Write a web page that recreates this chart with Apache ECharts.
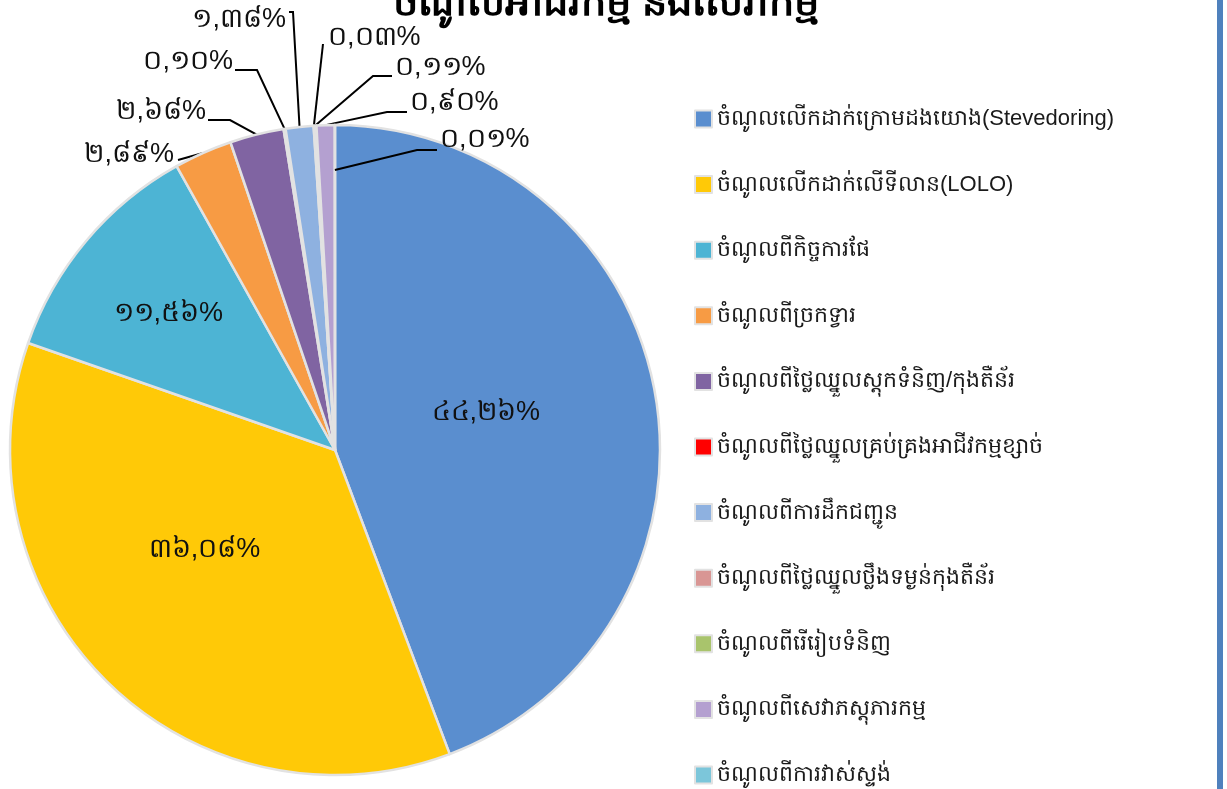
<!DOCTYPE html>
<html>
<head>
<meta charset="utf-8">
<title>ចំណូលអាជីវកម្ម និងសេវាកម្ម</title>
<script src="https://cdn.jsdelivr.net/npm/echarts@6/dist/echarts.min.js"></script>
<style>
  html, body { margin: 0; padding: 0; background: #fff; }
  #chart { width: 1227px; height: 789px; }
</style>
</head>
<body>
<div id="chart"></div>
<script>
// ប្រភេទចំណូល (categories)
const categories = [
  'ចំណូលលើកដាក់ក្រោមដងយោង(Stevedoring)',
  'ចំណូលលើកដាក់លើទីលាន(LOLO)',
  'ចំណូលពីកិច្ចការផែ',
  'ចំណូលពីច្រកទ្វារ',
  'ចំណូលពីថ្លៃឈ្នួលស្តុកទំនិញ/កុងតឺន័រ',
  'ចំណូលពីថ្លៃឈ្នួលគ្រប់គ្រងអាជីវកម្មខ្សាច់',
  'ចំណូលពីការដឹកជញ្ជូន',
  'ចំណូលពីថ្លៃឈ្នួលថ្លឹងទម្ងន់កុងតឺន័រ',
  'ចំណូលពីរើរៀបទំនិញ',
  'ចំណូលពីសេវាភស្តុភារកម្ម',
  'ចំណូលពីការវាស់ស្ទង់'
]
// ភាគរយ (%)
const values = [44.26, 36.08, 11.56, 2.89, 2.68, 0.10, 1.38, 0.03, 0.11, 0.90, 0.01]
const colors = [
  '#5A8ECF', '#FFC907', '#4DB4D4', '#F79B44', '#8064A2', '#FF0000',
  '#8EB1E0', '#D99694', '#A9C46C', '#B4A0D0', '#7CC6DA'
]
// slices that get their label inside
const insideLabels = [0, 1, 2]

const khmerDigits = ['០', '១', '២', '៣', '៤', '៥', '៦', '៧', '៨', '៩']
const toKhmer = (v) =>
  v.toFixed(2).replace('.', ',').replace(/[0-9]/g, (d) => khmerDigits[+d]) + '%'

const pieCenter = [335, 450]
const pieRadius = 325

// where the labels sit (like the Excel layout): inside ones get a nudge,
// outside ones get text position + elbow of the leader line
const insideNudge = {
  0: [-12, -8],
  1: [-15, -19],
  2: [-40, -30]
}
const outsideLayout = {
  3: { x: 174, y: 155, align: 'right', elbow: [178, 160] },
  4: { x: 206, y: 112, align: 'right', elbow: [230, 120], end: [208, 120] },
  5: { x: 233, y: 62, align: 'right', elbow: [257, 70], end: [235, 70] },
  6: { x: 286, y: 20, align: 'right', elbow: [293, 12], end: [289, 12] },
  7: { x: 328, y: 38, align: 'left', elbow: [323, 44] },
  8: { x: 395, y: 68, align: 'left', elbow: [373, 76], end: [392, 76] },
  9: { x: 410, y: 103, align: 'left', elbow: [387, 112], end: [407, 112] },
  10: { x: 440, y: 140, align: 'left', elbow: [417, 150], end: [437, 150] }
}

// the tiniest slice gets no guide line from echarts, so draw it here:
// point at the middle of that slice, a bit inside the rim
const total = values.reduce((a, b) => a + b, 0)
const lastMid = (total - values[values.length - 1] / 2) / total * 2 * Math.PI
const lastAnchor = [
  pieCenter[0] + (pieRadius - 45) * Math.sin(lastMid),
  pieCenter[1] - (pieRadius - 45) * Math.cos(lastMid)
]
const lastLay = outsideLayout[values.length - 1]

const chart = echarts.init(document.getElementById('chart'))

const seriesData = categories.map((name, i) => {
  const item = { name: name, value: values[i] }
  if (insideLabels.includes(i)) {
    item.label = { position: 'inside' }
    item.labelLine = { show: false }
  }
  return item
})

const options = {
  color: colors,
  title: {
    text: 'ចំណូលអាជីវកម្ម និងសេវាកម្ម',
    left: 601,
    textAlign: 'center',
    top: -21,
    textStyle: { fontSize: 40, fontWeight: 'bold', color: '#000' }
  },
  legend: {
    orient: 'vertical',
    left: 694,
    top: 108,
    height: 681,
    padding: 0,
    itemWidth: 17,
    itemHeight: 17,
    itemGap: 43.6,
    icon: 'rect',
    textStyle: { fontSize: 22, color: '#1a1a1a' },
    data: categories
  },
  graphic: [
    {
      // right blue border
      type: 'rect',
      shape: { x: 1217, y: 0, width: 6, height: 789 },
      style: { fill: '#4F81BD' }
    },
    {
      type: 'polyline',
      z: 100,
      shape: { points: [lastAnchor, lastLay.elbow, lastLay.end] },
      style: { stroke: '#000', lineWidth: 2, fill: null }
    }
  ],
  series: [
    {
      type: 'pie',
      center: pieCenter,
      radius: pieRadius,
      startAngle: 90,
      clockwise: true,
      minShowLabelAngle: 0,
      avoidLabelOverlap: false,
      itemStyle: { borderColor: '#e2e2e2', borderWidth: 2.5 },
      label: {
        show: true,
        formatter: (p) => toKhmer(p.value),
        fontSize: 27,
        color: '#111'
      },
      labelLine: {
        show: true,
        length: 20,
        length2: 20,
        minTurnAngle: 0,
        maxSurfaceAngle: 180,
        lineStyle: { color: '#000', width: 2 }
      },
      labelLayout: (params) => {
        const i = params.dataIndex
        if (insideNudge[i]) {
          return { dx: insideNudge[i][0], dy: insideNudge[i][1] }
        }
        const lay = outsideLayout[i]
        if (!lay) return {}
        const res = { x: lay.x, y: lay.y, align: lay.align, verticalAlign: 'middle' }
        if (params.labelLinePoints) {
          res.labelLinePoints = [params.labelLinePoints[0], lay.elbow, lay.end || lay.elbow]
        }
        return res
      },
      emphasis: { disabled: true },
      data: seriesData
    }
  ]
}

chart.setOption(options)
</script>
</body>
</html>
